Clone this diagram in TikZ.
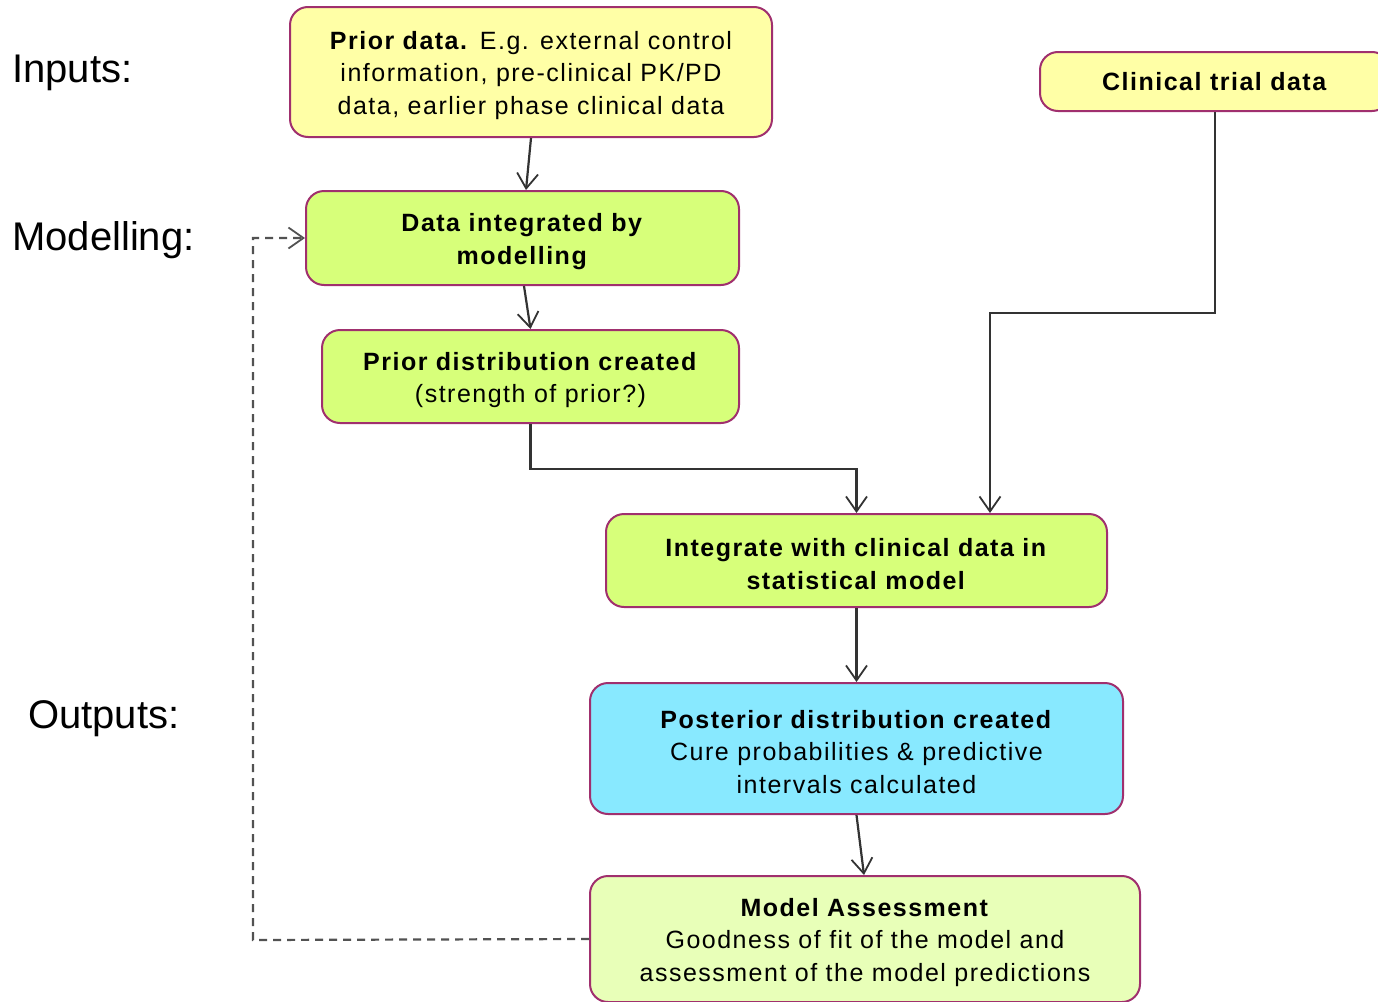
\documentclass[tikz,border=0pt]{standalone}
\usepackage{fontspec}
\setmainfont{Liberation Sans}[LetterSpace=6]
\newfontfamily\labelfont{Liberation Sans}
\usetikzlibrary{arrows.meta}
\definecolor{edgecol}{HTML}{A0306E}
\definecolor{yellowfill}{HTML}{FFFFA6}
\definecolor{greenfill}{HTML}{D7FF7A}
\definecolor{cyanfill}{HTML}{88E9FF}
\definecolor{palegreen}{HTML}{E8FFB8}
\definecolor{linecol}{HTML}{333333}
\newcommand\mytopstrut{\rule{0pt}{25pt}}
\tikzset{
  box/.style={draw=edgecol, line width=2pt, rounded corners=18pt, align=center,
    inner sep=0pt, font=\fontsize{25}{32.5}\selectfont},
  lbl/.style={anchor=base west, inner sep=0pt, font=\labelfont\fontsize{40}{48}\selectfont},
  conn/.style={draw=linecol, line width=2.2pt, -{Straight Barb[length=15pt,width=21pt,line width=1.8pt]}},
  feedback/.style={draw=linecol!85, line width=2.2pt, dash pattern=on 8pt off 6pt,
    -{Straight Barb[length=15pt,width=21pt,line width=1.8pt]}}
}
\begin{document}
\begin{tikzpicture}[x=1pt,y=-1pt]
\useasboundingbox (0,0) rectangle (1378,1001);
\clip (0,0) rectangle (1378,1001);

\node[lbl] (linputs) at (12,82) {Inputs:};
\node[lbl] (lmodel) at (12,250) {Modelling:};
\node[lbl] (loutputs) at (28,728) {Outputs:};

\node[box, fill=yellowfill, minimum width=482pt, minimum height=130pt] (prior) at (531,72)
  {\mytopstrut\textbf{Prior data.} E.g. external control\\information, pre-clinical PK/PD\\data, earlier phase clinical data};
\node[box, fill=yellowfill, minimum width=350pt, minimum height=59pt] (clin) at (1215,81.5)
  {\textbf{Clinical trial data}};
\node[box, fill=greenfill, minimum width=433pt, minimum height=94pt] (dim) at (522.5,238)
  {\mytopstrut\textbf{Data integrated by}\\\textbf{modelling}};
\node[box, fill=greenfill, minimum width=417pt, minimum height=93pt] (pdc) at (530.5,376.5)
  {\mytopstrut\textbf{Prior distribution created}\\(strength of prior?)};
\node[box, fill=greenfill, minimum width=501pt, minimum height=93pt] (icd) at (856.5,560.5)
  {\mytopstrut\textbf{Integrate with clinical data in}\\\textbf{statistical model}};
\node[box, fill=cyanfill, minimum width=533pt, minimum height=131pt] (post) at (856.5,748.5)
  {\mytopstrut\textbf{Posterior distribution created}\\Cure probabilities \& predictive\\intervals calculated};
\node[box, fill=palegreen, minimum width=550pt, minimum height=126pt] (ma) at (865,939)
  {\mytopstrut\textbf{Model Assessment}\\Goodness of fit of the model and\\assessment of the model predictions};

\coordinate (fbcorner1) at (253,940);
\coordinate (fbcorner2) at (253,238);

\draw[conn] (prior.south) -- ([xshift=3.5pt]dim.north);
\draw[conn] ([xshift=1.5pt]dim.south) -- (pdc.north);
\draw[conn] (pdc.south) -- ++(0,45) -| (icd.north);
\draw[conn] (clin.south) -- ++(0,201) -| ([xshift=133.5pt]icd.north);
\draw[conn] (icd.south) -- (post.north);
\draw[conn] (post.south) -- ([xshift=-1pt]ma.north);
\draw[feedback] (ma.west) -- (fbcorner1) -- (fbcorner2) -- (dim.west);
\end{tikzpicture}
\end{document}
